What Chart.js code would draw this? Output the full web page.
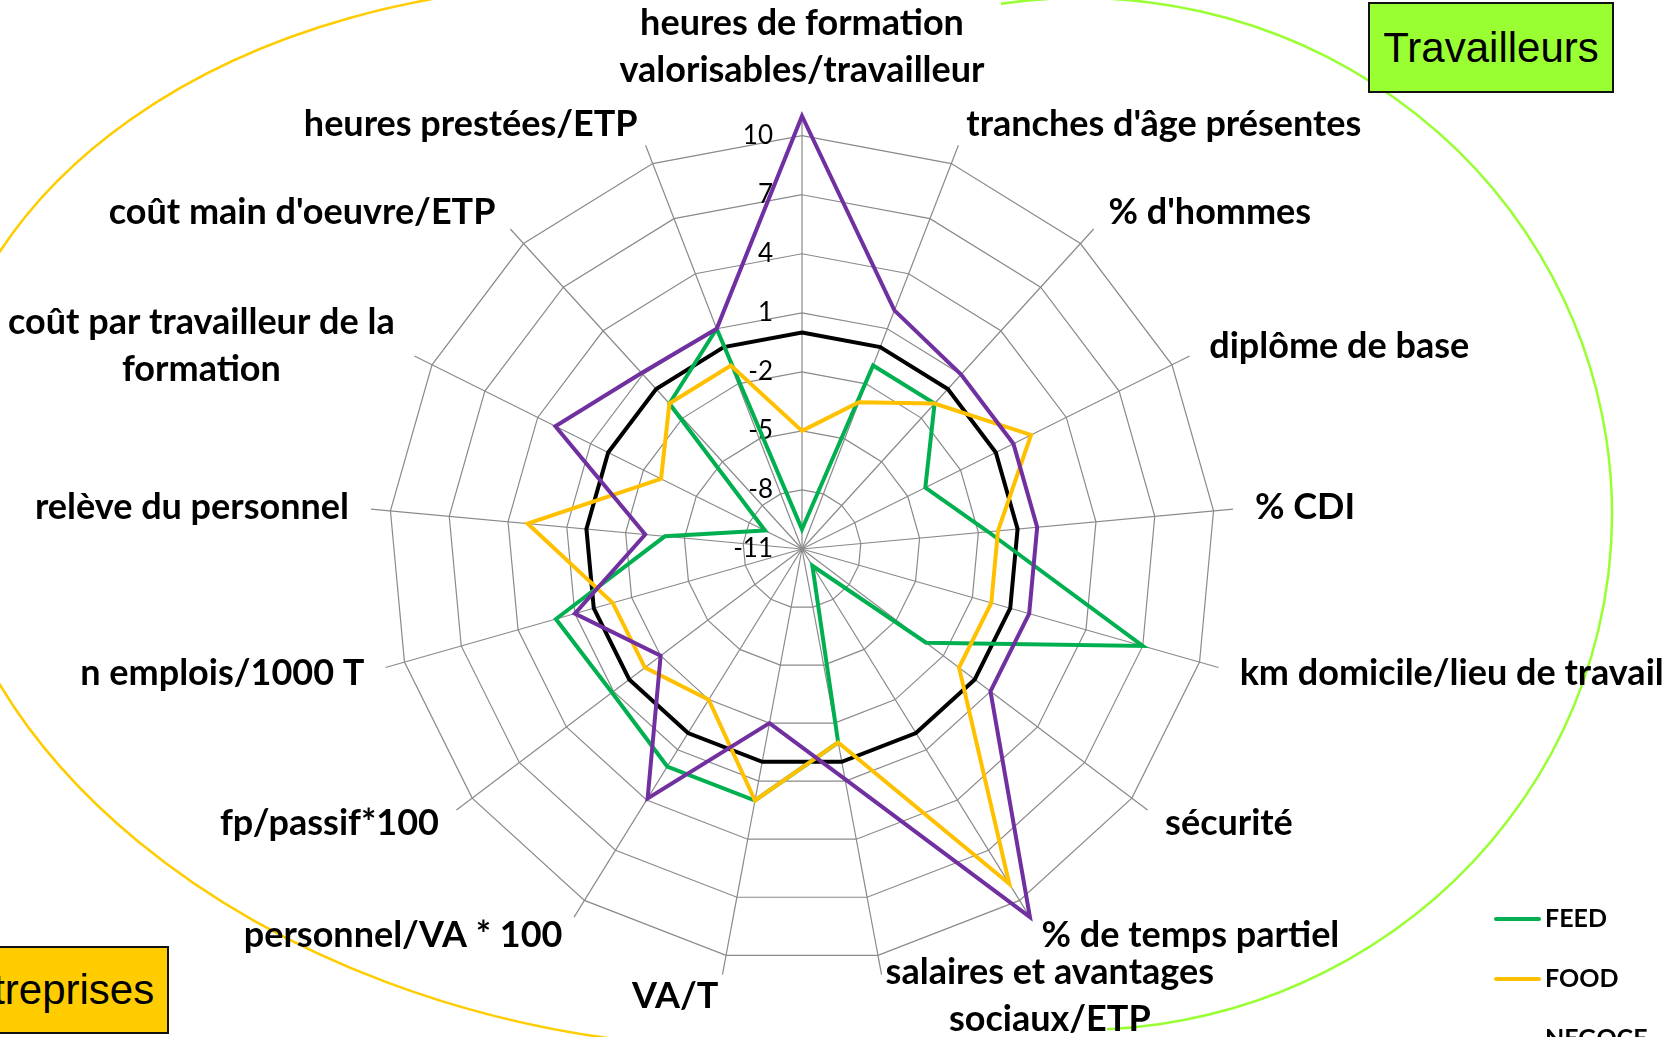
<!DOCTYPE html>
<html>
<head>
<meta charset="utf-8">
<script src="https://cdn.jsdelivr.net/npm/chart.js@4"></script>
<style>
  body { margin: 0; background: #fff; overflow: hidden; }
  #wrap { position: relative; width: 1672px; height: 1037px; overflow: hidden; }
  .tag { position: absolute; box-sizing: border-box; border: 2px solid #111;
         font-family: "Liberation Sans", Arial, sans-serif; font-size: 42px;
         display: flex; align-items: center; justify-content: center; }
</style>
</head>
<body>
<div id="wrap">
  <canvas id="radar"></canvas>
  <div class="tag" style="left:1368px; top:2px; width:246px; height:91px; background:#99FF33;">Travailleurs</div>
  <div class="tag" style="left:-73px; top:946px; width:242px; height:88px; background:#FFCC00;">Entreprises</div>
</div>
<script>
const labels = [
  ["heures de formation", "valorisables/travailleur"],
  "tranches d'âge présentes",
  "% d'hommes",
  "diplôme de base",
  "% CDI",
  "km domicile/lieu de travail",
  "sécurité",
  "% de temps partiel",
  ["salaires et avantages", "sociaux/ETP"],
  "VA/T",
  "personnel/VA * 100",
  "fp/passif*100",
  "n emplois/1000 T",
  "relève du personnel",
  ["coût par travailleur de la", "formation"],
  "coût main d'oeuvre/ETP",
  "heures prestées/ETP"
];

const feed   = [-10, -1, -1, -4, -1.5, 7, -3.1, -10, -1, 2, 2, 1.1, 2, -4, -8.9, -1, 1];
const food   = [-5, -3, -1, 2, -1, -1, -1, 9, -1, 2, -2, -1, -1, 3, -3, -1, -1];
const negoce = [11, 2, 1, 1, 1, 1, 1, 11, 0.9, -2, 3.9, -2, 1, -3, 3, 1.1, 1];
const zero   = [0, 0, 0, 0, 0, 0, 0, 0, 0, 0, 0, 0, 0, 0, 0, 0, 0];

const tickValues = [-11, -8, -5, -2, 1, 4, 7, 10];

const canvas = document.getElementById("radar");

// arcs, tick labels, point labels and legend drawn by hand (Excel-like placement)
const decor = {
  id: "decor",
  beforeDraw(chart) {
    const ctx = chart.ctx;
    ctx.save();
    ctx.lineWidth = 2.5;
    ctx.strokeStyle = "#FFCC00";
    ctx.beginPath();
    ctx.ellipse(680, 516, 749, 527, 0.14, 1.5, 4.5);
    ctx.stroke();
    ctx.strokeStyle = "#99FF33";
    ctx.beginPath();
    ctx.ellipse(1080, 514, 532, 516, 0, -1.72, 1.52);
    ctx.stroke();
    ctx.restore();
  },
  beforeDatasetsDraw(chart) {
    const ctx = chart.ctx;
    const r = chart.scales.r;
    ctx.save();
    ctx.font = "26px Lato";
    ctx.fillStyle = "#000";
    ctx.textAlign = "right";
    ctx.textBaseline = "middle";
    tickValues.forEach(v => {
      ctx.fillText(String(v), r.xCenter - 29, r.yCenter - r.getDistanceFromCenterForValue(v));
    });
    ctx.restore();
  },
  afterDraw(chart) {
    const ctx = chart.ctx;
    const r = chart.scales.r;
    const n = labels.length;
    const lineH = 47;
    ctx.save();
    ctx.font = "bold 36px Lato";
    ctx.fillStyle = "#000";
    ctx.textAlign = "center";
    ctx.textBaseline = "middle";
    labels.forEach((lab, i) => {
      const lines = Array.isArray(lab) ? lab : [lab];
      const w = Math.max(...lines.map(l => ctx.measureText(l).width));
      const h = lines.length * lineH;
      const p = r.getPointPosition(i, r.drawingArea + 22);
      const deg = i * 360 / n;
      let left = p.x - w / 2;
      let top = p.y - h / 2;
      if (deg === 0) top = p.y - h;
      else if (deg < 180) left = p.x;
      else left = p.x - w;
      lines.forEach((l, k) => ctx.fillText(l, left + w / 2, top + lineH * (k + 0.5)));
    });

    // legend
    ctx.font = "bold 25px Lato";
    ctx.textAlign = "left";
    ctx.lineCap = "round";
    ctx.lineWidth = 4;
    chart.data.datasets.forEach((ds, i) => {
      const y = 919 + i * 60;
      ctx.strokeStyle = ds.borderColor;
      ctx.beginPath();
      ctx.moveTo(1496, y);
      ctx.lineTo(1539, y);
      ctx.stroke();
      ctx.fillText(ds.label, 1545, y);
    });
    ctx.restore();
  }
};

new Chart(canvas, {
  type: "radar",
  data: {
    labels: labels,
    datasets: [
      { label: "FEED", data: feed, borderColor: "#00B050", order: 3 },
      { label: "FOOD", data: food, borderColor: "#FFC000", order: 2 },
      { label: "NEGOCE", data: negoce, borderColor: "#7030A0", order: 1 },
      { label: "MOYENNE", data: zero, borderColor: "#000000", order: 4 }
    ]
  },
  options: {
    responsive: true,
    maintainAspectRatio: false,
    animation: false,
    layout: { padding: { left: 369, top: 116, right: 437, bottom: 55 } },
    elements: {
      point: { radius: 0 },
      line: { borderWidth: 4, tension: 0, fill: false }
    },
    plugins: { legend: { display: false }, tooltip: { enabled: false } },
    scales: {
      r: {
        min: -11,
        max: 11,
        afterBuildTicks: s => { s.ticks = tickValues.map(v => ({ value: v })); },
        ticks: { display: false },
        grid: { color: "#8a8a8a", lineWidth: 1.2 },
        angleLines: { color: "#8a8a8a", lineWidth: 1.2 },
        pointLabels: { display: false }
      }
    }
  },
  plugins: [decor]
});
</script>
</body>
</html>
